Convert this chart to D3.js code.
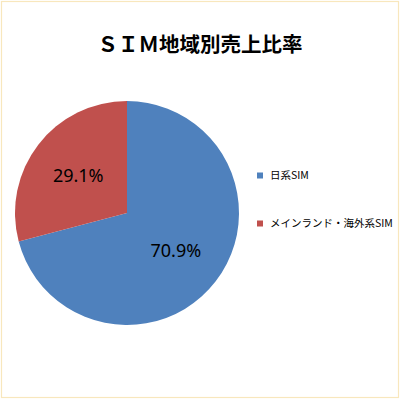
<!DOCTYPE html>
<html><head><meta charset="utf-8">
<script src="https://cdn.jsdelivr.net/npm/d3@7"></script>
<style>html,body{margin:0;padding:0;background:#fff;}</style>
</head><body>
<script>
const title = "ＳＩＭ地域別売上比率";
const categories = ["日系SIM", "メインランド・海外系SIM"];
const values = [70.9, 29.1];
const labels = ["70.9%", "29.1%"];
const colors = ["#4f81bd", "#c0504d"];

const W = 400, H = 400;
const svg = d3.select("body").append("svg").attr("width", W).attr("height", H);
svg.append("rect").attr("x", 0).attr("y", 0).attr("width", W).attr("height", H).attr("fill", "#fff");
svg.append("rect").attr("x", 1.5).attr("y", 1.5).attr("width", 397).attr("height", 396)
  .attr("fill", "none").attr("stroke", "#f8e7bd").attr("stroke-width", 1.2);

svg.append("text").attr("x", 200).attr("y", 52).attr("text-anchor", "middle")
  .attr("font-family", "'Noto Sans CJK JP'").attr("font-weight", "bold").attr("font-size", 20.5)
  .attr("fill", "#000").text(title);

const cx = 127, cy = 213, r = 112;
const pie = d3.pie().sort(null).value(d => d)(values);
const arc = d3.arc().innerRadius(0).outerRadius(r);
const labelArc = d3.arc().innerRadius(r * 0.55).outerRadius(r * 0.55);
const g = svg.append("g").attr("transform", `translate(${cx},${cy})`);
g.selectAll("path").data(pie).enter().append("path")
  .attr("d", arc).attr("fill", (d, i) => colors[i]);
g.selectAll("text").data(pie).enter().append("text")
  .attr("transform", d => `translate(${labelArc.centroid(d)})`)
  .attr("text-anchor", "middle").attr("dy", "0.35em")
  .attr("font-family", "'Noto Sans'").attr("font-size", 18).attr("fill", "#000")
  .text((d, i) => labels[i]);

const legend = svg.append("g");
const ly = d3.scalePoint().domain(categories).range([175.5, 223.5]);
categories.forEach((c, i) => {
  legend.append("rect").attr("x", 257).attr("y", ly(c) - 3).attr("width", 6).attr("height", 6).attr("fill", colors[i]);
  legend.append("text").attr("x", 270).attr("y", ly(c)).attr("dy", "0.35em")
    .attr("font-family", "'Noto Sans CJK JP'").attr("font-size", 10.5).attr("fill", "#000").text(c);
});
</script>
</body></html>
